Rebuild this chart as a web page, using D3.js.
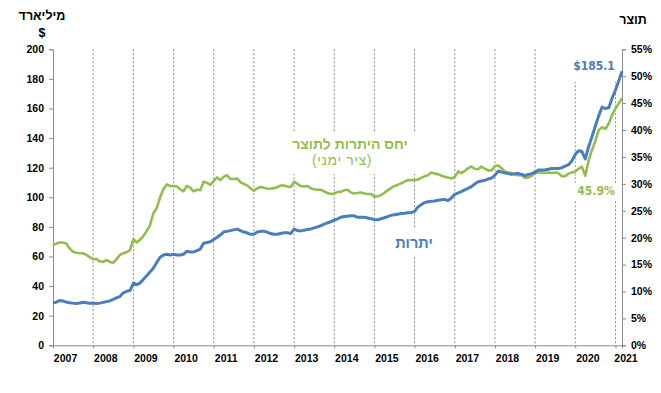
<!DOCTYPE html>
<html>
<head>
<meta charset="utf-8">
<script src="https://d3js.org/d3.v7.min.js"></script>
<style>
    body { margin: 0; background: #fff; }
    svg { display: block; }
    .tick-label { font-family: 'Liberation Sans', Arial, sans-serif; font-weight: bold; font-size: 10.5px; fill: #000; }
    .title { font-family: 'Liberation Sans', Arial, sans-serif; font-weight: bold; font-size: 12.5px; fill: #000; }
</style>
</head>
<body>
<div id="chart"></div>
<script>
// monthly data, Jan 2007 .. Mar 2021
const startMonth = new Date(2007, 0, 1)

// foreign exchange reserves, $ billion (left axis)
const reserves = [
    28.6, 29.2, 30.3, 30.0, 29.2, 28.8, 28.5, 28.3, 28.6, 29.1, 28.8, 28.4, // 2007
    28.4, 28.3, 28.5, 29.0, 29.5, 30.0, 31.0, 32.0, 33.0, 35.5, 36.5, 37.0, // 2008
    42.0, 41.0, 42.0, 44.5, 47.0, 49.5, 52.0, 56.0, 59.5, 61.0, 61.5, 61.0, // 2009
    61.5, 61.0, 61.0, 61.5, 63.5, 63.0, 63.0, 64.0, 65.0, 69.0, 69.5, 70.0, // 2010
    71.5, 73.0, 74.5, 76.5, 77.0, 77.5, 78.0, 78.5, 77.5, 76.5, 76.0, 75.0, // 2011
    75.0, 76.5, 77.0, 77.0, 76.5, 75.5, 75.0, 75.0, 75.5, 76.0, 76.0, 75.5, // 2012
    78.5, 77.5, 77.3, 77.8, 78.2, 78.6, 79.3, 80.0, 80.8, 81.8, 82.8, 83.5, // 2013
    84.5, 85.5, 86.5, 87.0, 87.2, 87.5, 87.5, 86.5, 86.5, 86.5, 86.0, 85.5, // 2014
    85.0, 84.8, 85.5, 86.2, 87.0, 87.8, 88.2, 88.6, 89.0, 89.2, 89.5, 89.6, // 2015
    90.5, 93.5, 95.0, 96.4, 97.0, 97.3, 97.5, 98.0, 98.3, 98.6, 97.7, 99.5, // 2016
    102.0, 103.0, 103.8, 105.0, 106.0, 107.2, 109.0, 110.5, 111.0, 111.5, 112.4, 113.0, // 2017
    115.0, 117.8, 117.0, 116.5, 116.0, 115.5, 116.0, 116.2, 115.5, 114.6, 115.5, 116.0, // 2018
    117.0, 118.5, 118.5, 118.5, 119.0, 119.5, 119.5, 119.5, 120.0, 121.0, 122.0, 124.5, // 2019
    129.0, 131.5, 131.0, 126.0, 134.0, 141.0, 148.0, 155.0, 161.0, 160.0, 160.5, 167.0, // 2020
    172.5, 179.0, 185.1 // 2021
]

// reserves to GDP, % (right axis)
const ratio = [
    18.6, 18.9, 19.1, 19.1, 18.9, 18.0, 17.4, 17.2, 17.1, 17.1, 16.8, 16.4, // 2007
    16.0, 16.0, 15.6, 15.5, 15.85, 15.5, 15.3, 16.0, 16.8, 17.1, 17.3, 17.7, // 2008
    19.7, 19.1, 19.6, 20.3, 21.2, 22.3, 24.5, 25.5, 27.5, 29.0, 29.9, 29.6, // 2009
    29.6, 29.5, 29.0, 28.6, 29.6, 29.3, 28.6, 28.9, 28.8, 30.4, 30.2, 29.8, // 2010
    30.5, 31.2, 30.7, 31.3, 31.6, 30.9, 30.9, 31.0, 30.3, 30.0, 29.7, 29.2, // 2011
    28.7, 29.2, 29.4, 29.3, 29.1, 29.1, 29.2, 29.4, 29.7, 29.7, 29.5, 29.4, // 2012
    30.4, 30.0, 29.6, 29.5, 29.6, 29.2, 29.0, 28.9, 28.9, 28.6, 28.3, 28.1, // 2013
    28.2, 28.5, 28.5, 28.8, 28.9, 28.4, 28.2, 28.3, 28.4, 28.2, 28.1, 28.1, // 2014
    27.6, 27.7, 27.9, 28.3, 28.8, 29.2, 29.6, 29.8, 30.1, 30.4, 30.7, 30.7, // 2015
    30.7, 30.8, 31.1, 31.4, 31.6, 32.1, 31.9, 31.8, 31.5, 31.3, 31.2, 31.0, // 2016
    31.3, 32.3, 32.0, 32.4, 32.9, 33.2, 32.8, 32.7, 33.2, 32.8, 32.5, 32.5, // 2017
    33.3, 33.4, 32.9, 32.3, 32.1, 32.0, 31.7, 31.6, 31.6, 31.1, 31.2, 31.5, // 2018
    32.0, 32.1, 32.1, 32.0, 32.1, 32.0, 32.1, 32.0, 31.4, 31.4, 31.9, 32.1, // 2019
    32.3, 32.8, 33.2, 31.5, 34.3, 36.3, 37.9, 40.0, 40.5, 40.2, 41.2, 42.8, // 2020
    44.0, 45.0, 45.9 // 2021
]

const years = d3.range(2007, 2022)
const leftTicks = d3.range(0, 201, 20)
const rightTicks = d3.range(0, 56, 5)

const W = 661, H = 393
const plot = {left: 53, right: 622, top: 49.3, bottom: 345.3}
const blue = '#4a7ebb', green = '#93bd4e', axisGrey = '#8a8a8a'

const svg = d3.select('#chart').append('svg')
    .attr('width', W)
    .attr('height', H)

const months = reserves.map((d, i) => d3.timeMonth.offset(startMonth, i))

const x = d3.scaleTime()
    .domain([startMonth, months[months.length - 1]])
    .range([plot.left, plot.right])
const yL = d3.scaleLinear().domain([0, 200]).range([plot.bottom, plot.top])
const yR = d3.scaleLinear().domain([0, 55]).range([plot.bottom, plot.top])

// dashed year separators
svg.append('g')
    .selectAll('line')
    .data(years.slice(1))
    .join('line')
    .attr('x1', d => x(new Date(d, 0, 1)))
    .attr('x2', d => x(new Date(d, 0, 1)))
    .attr('y1', plot.top)
    .attr('y2', plot.bottom)
    .attr('stroke', '#8c8c8c')
    .attr('stroke-width', 1)
    .attr('stroke-dasharray', '2,2')

// white boxes behind the labels (hide the grid like the text boxes do)
const boxes = [
    [570, 49, 50, 33],
    [570, 183, 50, 17],
    [284, 132, 134, 42],
    [390, 228, 48, 28]
]
svg.append('g')
    .selectAll('rect')
    .data(boxes)
    .join('rect')
    .attr('x', d => d[0]).attr('y', d => d[1])
    .attr('width', d => d[2]).attr('height', d => d[3])
    .attr('fill', '#fff')

// axes
const left = svg.append('g')
    .attr('transform', `translate(${plot.left},0)`)
    .call(d3.axisLeft(yL).tickValues(leftTicks).tickSize(4).tickPadding(5))
left.select('.domain').attr('stroke', axisGrey)
left.selectAll('.tick line').attr('stroke', axisGrey)
left.selectAll('.tick text').attr('class', 'tick-label')

const right = svg.append('g')
    .attr('transform', `translate(${plot.right},0)`)
    .call(d3.axisRight(yR).tickValues(rightTicks).tickSize(4).tickPadding(5).tickFormat(d => d + '%'))
right.select('.domain').attr('stroke', axisGrey)
right.selectAll('.tick line').attr('stroke', axisGrey)
right.selectAll('.tick text').attr('class', 'tick-label')

const bottom = svg.append('g')
    .attr('transform', `translate(0,${plot.bottom})`)
    .call(d3.axisBottom(x)
        .tickValues(years.map(d => new Date(d, 0, 1)))
        .tickSize(3)
        .tickFormat(''))
bottom.select('.domain').attr('stroke', axisGrey)
bottom.selectAll('.tick line').attr('stroke', axisGrey)

// year labels sit a little right of each separator
svg.append('g')
    .selectAll('text')
    .data(years)
    .join('text')
    .attr('class', 'tick-label')
    .attr('x', d => Math.min(x(new Date(d, 3, 25)), 626))
    .attr('y', 362)
    .attr('text-anchor', 'middle')
    .text(d => d)

// lines
const lineL = d3.line().x((d, i) => x(months[i])).y(d => yL(d))
const lineR = d3.line().x((d, i) => x(months[i])).y(d => yR(d))

svg.append('path')
    .datum(ratio)
    .attr('fill', 'none')
    .attr('stroke', green)
    .attr('stroke-width', 2.6)
    .attr('stroke-linejoin', 'round')
    .attr('d', lineR)

svg.append('path')
    .datum(reserves)
    .attr('fill', 'none')
    .attr('stroke', blue)
    .attr('stroke-width', 3)
    .attr('stroke-linejoin', 'round')
    .attr('d', lineL)

// axis titles
svg.append('text').attr('class', 'title')
    .attr('x', 42).attr('y', 20).attr('text-anchor', 'middle')
    .attr('direction', 'rtl')
    .text('מיליארד')
svg.append('text').attr('class', 'title')
    .attr('x', 42).attr('y', 37).attr('text-anchor', 'middle')
    .text('$')
svg.append('text').attr('class', 'title')
    .attr('x', 633).attr('y', 24).attr('text-anchor', 'middle')
    .attr('direction', 'rtl')
    .text('תוצר')

// series labels
const lbl = 'DejaVu Sans Condensed, DejaVu Sans, sans-serif'
svg.append('text')
    .attr('x', 594).attr('y', 70).attr('text-anchor', 'middle')
    .style('font-family', lbl).style('font-weight', 'bold').style('font-size', '12px')
    .attr('fill', blue)
    .text('$' + reserves[reserves.length - 1].toFixed(1))
svg.append('text')
    .attr('x', 596).attr('y', 195).attr('text-anchor', 'middle')
    .style('font-family', lbl).style('font-weight', 'bold').style('font-size', '12px')
    .attr('fill', green)
    .text(ratio[ratio.length - 1].toFixed(1) + '%')

const heb = 'Liberation Sans, Arial, sans-serif'
svg.append('text')
    .attr('x', 350).attr('y', 149).attr('text-anchor', 'middle')
    .attr('direction', 'rtl')
    .style('font-family', heb).style('font-weight', 'bold').style('font-size', '14px')
    .attr('fill', green)
    .text('יחס היתרות לתוצר')
svg.append('text')
    .attr('x', 342).attr('y', 165).attr('text-anchor', 'middle')
    .attr('direction', 'rtl')
    .style('font-family', heb).style('font-size', '14px').style('letter-spacing', '0.6px')
    .attr('fill', green)
    .text('(ציר ימני)')
svg.append('text')
    .attr('x', 414).attr('y', 248).attr('text-anchor', 'middle')
    .attr('direction', 'rtl')
    .style('font-family', heb).style('font-weight', 'bold').style('font-size', '14.5px')
    .attr('fill', blue)
    .text('יתרות')
</script>
</body>
</html>
